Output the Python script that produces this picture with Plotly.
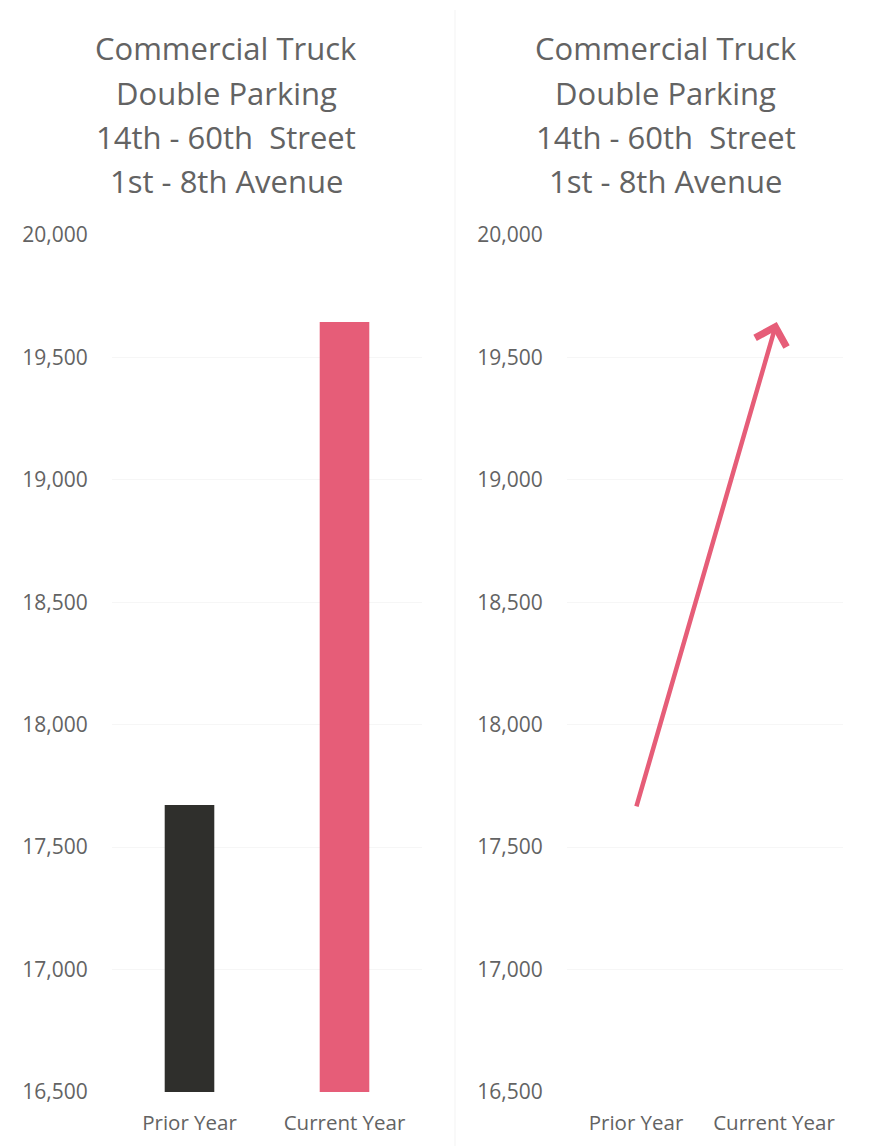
import plotly.graph_objects as go

categories = ["Prior Year", "Current Year"]
values = [17672, 19645]
bar_colors = ["#2f2f2c", "#e65d78"]
title_lines = ["Commercial Truck", "Double Parking", "14th - 60th  Street", "1st - 8th Avenue"]
tick_vals = [16500, 17000, 17500, 18000, 18500, 19000, 19500, 20000]
tick_text = ["16,500", "17,000", "17,500", "18,000", "18,500", "19,000", "19,500", "20,000"]

W, H = 872, 1146
OFF = 8  # page body margin
FONT = "Open Sans"
TXT = "#636363"


def fx(sx):
    return (sx - OFF) / W


def fy(sy):
    return 1 - (sy - OFF) / H


fig = go.Figure()
fig.add_trace(go.Bar(x=categories, y=values, marker=dict(color=bar_colors, line=dict(width=0)),
                     xaxis="x", yaxis="y", showlegend=False, hoverinfo="skip"))
fig.add_trace(go.Scatter(x=categories, y=values, mode="markers", marker=dict(opacity=0),
                         xaxis="x2", yaxis="y2", showlegend=False, hoverinfo="skip"))

y_dom = [fy(1092), fy(235)]
yax = dict(range=[16500, 20000], tickvals=tick_vals, ticktext=tick_text, showgrid=True,
           gridcolor="#f6f6f6", gridwidth=1, zeroline=False, showline=False,
           ticks="outside", ticklen=0, ticklabelstandoff=19, automargin=False,
           tickfont=dict(family=FONT, size=21, color=TXT), domain=y_dom)
xax = dict(showgrid=False, zeroline=False, showline=False, ticks="outside", ticklen=0,
           ticklabelstandoff=12, automargin=False,
           tickfont=dict(family=FONT, size=20.5, color=TXT), range=[-0.5, 1.5])

fig.update_layout(
    width=W, height=H, margin=dict(l=0, r=0, t=0, b=0),
    paper_bgcolor="white", plot_bgcolor="white", bargap=0.68,
    xaxis=dict(domain=[fx(112), fx(422)], anchor="y", **xax),
    yaxis=dict(anchor="x", **yax),
    xaxis2=dict(domain=[fx(567), fx(843)], anchor="y2", **xax),
    yaxis2=dict(anchor="x2", **yax),
)

annotations = []
line_y = [48, 93, 137, 181]
for cx in [226.5, 665.5]:
    for t, ly in zip(title_lines, line_y):
        annotations.append(dict(text=t, x=fx(cx), y=fy(ly), xref="paper", yref="paper",
                                xanchor="center", yanchor="middle", showarrow=False,
                                font=dict(family=FONT, size=31, color=TXT)))

annotations.append(dict(x=1.02, y=values[1], ax=0, ay=values[0] - 12, xref="x2", yref="y2",
                        axref="x2", ayref="y2", text="", showarrow=True, arrowhead=4,
                        arrowsize=1.4, arrowwidth=4.5, arrowcolor=bar_colors[1], standoff=0))
fig.update_layout(annotations=annotations)

fig.add_shape(type="line", xref="paper", yref="paper", x0=fx(455), x1=fx(455),
              y0=0, y1=fy(10), line=dict(color="#f3f3f3", width=1))

fig.write_html("out.html")
